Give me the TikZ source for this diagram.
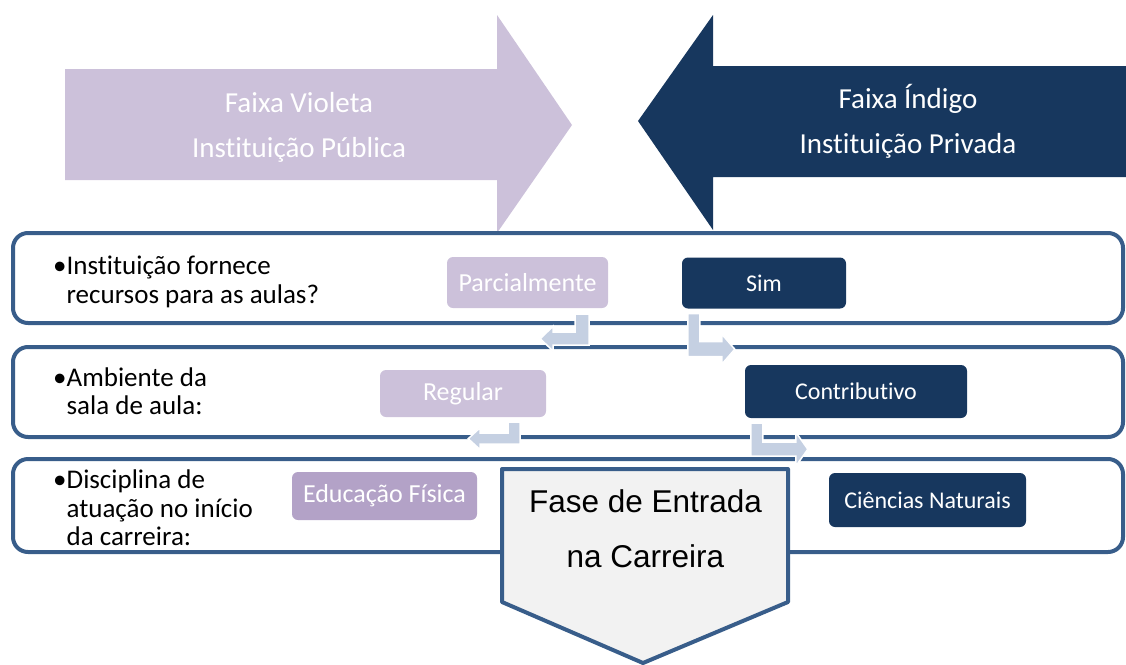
\documentclass[tikz,border=0pt]{standalone}
\usepackage{fontspec}
\setmainfont{Carlito}[Ligatures=CommonOff]
\newfontfamily\arialfont{Liberation Sans}
\definecolor{violetlight}{HTML}{CCC1DA}
\definecolor{violetmid}{HTML}{B3A2C7}
\definecolor{faixaindigo}{HTML}{17375E}
\definecolor{rowblue}{HTML}{385D8A}
\definecolor{bendblue}{HTML}{C5D0E2}
\definecolor{fasegray}{HTML}{F2F2F2}

\begin{document}
\begin{tikzpicture}[x=1pt, y=-1pt,
  rowbox/.style={draw=rowblue, line width=4pt, rounded corners=15pt},
  pill/.style={rounded corners=6pt, text=white, inner sep=0pt, font=\fontsize{26}{28}\selectfont},
  pubpill/.style={pill, fill=violetlight},
  privpill/.style={pill, fill=faixaindigo, font=\fontsize{24}{28}\selectfont},
  question/.style={anchor=west, align=left, inner sep=0pt, font=\fontsize{27}{28.5}\selectfont},
  turn/.style={fill=bendblue, draw=white, line width=1.5pt, line join=miter},
  banner/.style={text=white, align=center, inner sep=0pt, font=\fontsize{29}{45}\selectfont}]
  \useasboundingbox (0,0) rectangle (1126,664);

  % the two big arrows
  \fill[violetlight] (65,69) -- (497,69) -- (497,15) -- (572,125) -- (497,233)
    -- (497,180) -- (65,180) -- cycle;
  \fill[faixaindigo] (1126,66) -- (713,66) -- (713,15) -- (638,121) -- (713,230)
    -- (713,177) -- (1126,177) -- cycle;
  \node[banner] (pub) at (299,127) {Faixa Violeta\\Instituição Pública};
  \node[banner] (priv) at (908,121) {Faixa Índigo\\Instituição Privada};

  % the three rows
  \draw[rowbox] (13,233) rectangle (1123,323);
  \draw[rowbox] (13,347) rectangle (1123,437);
  \draw[rowbox] (13,459) rectangle (1123,552);

  \node[question] (q1) at (53,282) {•Instituição fornece\\\phantom{•}recursos para as aulas?};
  \node[question] (q2) at (53,391) {•Ambiente da\\\phantom{•}sala de aula:};
  \node[question] (q3) at (53,508) {•Disciplina de\\\phantom{•}atuação no início\\\phantom{•}da carreira:};

  % answers
  \node[pubpill, minimum width=161pt, minimum height=51pt] (parc) at (527.5,282.5) {Parcialmente};
  \node[privpill, minimum width=164pt, minimum height=51pt] (sim) at (764,283) {Sim};
  \node[pubpill, minimum width=166pt, minimum height=47pt] (regu) at (463,393.5) {Regular};
  \node[privpill, minimum width=222pt, minimum height=53pt] (contr) at (856,391.5) {Contributivo};
  \node[pubpill, fill=violetmid, minimum width=185pt, minimum height=48pt] (edfis) at (384.5,496) {Educação Física};
  \node[privpill, minimum width=197pt, minimum height=54pt] (cien) at (927.5,500) {Ciências Naturais};

  % bent arrows between the rows
  \draw[turn, shift={(parc.south east)}] (-19,6) -- (-19,37) -- (-55,37) -- (-55,43)
    -- (-68,30.5) -- (-55,18) -- (-55,24) -- (-33,24) -- (-33,6) -- cycle;
  \draw[turn, shift={(sim.south west)}] (6,5) -- (18,5) -- (18,33) -- (40,33) -- (40,25.5)
    -- (53,40.5) -- (40,55.5) -- (40,48) -- (6,48) -- cycle;
  \draw[turn, shift={(regu.south east)}] (-26,5) -- (-26,27) -- (-66,27) -- (-66,32.5)
    -- (-78,21.5) -- (-66,10.5) -- (-66,16) -- (-38,16) -- (-38,5) -- cycle;
  \draw[turn, shift={(contr.south west)}] (6,5) -- (18,5) -- (18,24) -- (51,24) -- (51,14)
    -- (63,31) -- (51,48) -- (51,38) -- (6,38) -- cycle;

  % career phase
  \draw[draw=rowblue, fill=fasegray, line width=4pt, line join=round]
    (502,469) -- (788,469) -- (788,602) -- (643,663) -- (502,602) -- cycle;
  \node[align=center, inner sep=0pt, font=\arialfont\fontsize{31.5}{55}\selectfont] (fase)
    at (645.5,529) {Fase de Entrada\\na Carreira};
\end{tikzpicture}
\end{document}
